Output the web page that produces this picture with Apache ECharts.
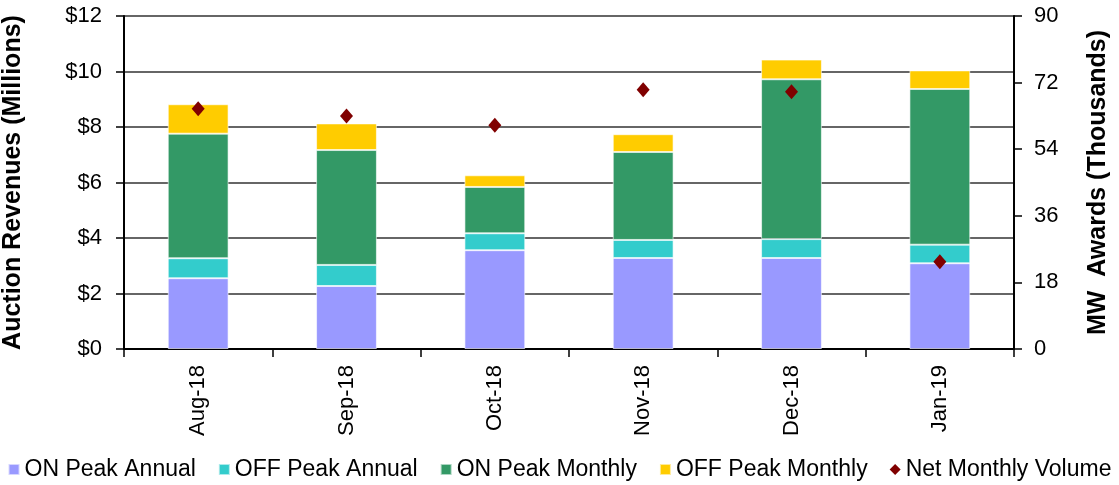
<!DOCTYPE html>
<html><head><meta charset="utf-8">
<script src="https://cdn.jsdelivr.net/npm/echarts@6/dist/echarts.min.js"></script>
<style>html,body{margin:0;padding:0;background:#fff}#c{width:1119px;height:485px}</style>
</head><body><div id="c"></div>
<script>
const categories = ['Aug-18','Sep-18','Oct-18','Nov-18','Dec-18','Jan-19'];
const onPeakAnnual = [2.55, 2.27, 3.56, 3.28, 3.28, 3.09];
const offPeakAnnual = [0.72, 0.76, 0.61, 0.65, 0.68, 0.67];
const onPeakMonthly = [4.49, 4.14, 1.67, 3.17, 5.76, 5.61];
const offPeakMonthly = [1.06, 0.96, 0.42, 0.64, 0.71, 0.67];
const netMonthlyVolume = [64.9, 63.0, 60.5, 70.1, 69.5, 23.6];
const leftTicks = [0, 2, 4, 6, 8, 10, 12];
const rightTicks = [0, 18, 36, 54, 72, 90];

const font = 'Liberation Sans, Arial, sans-serif';
const chart = echarts.init(document.getElementById('c'), null, {renderer:'canvas'});
const barBase = {type:'bar', stack:'rev', barWidth:'41%', itemStyle:{borderColor:'rgba(255,255,255,0.6)', borderWidth:1}};
chart.setOption({
  animation:false,
  textStyle:{fontFamily:font, color:'#000'},
  grid:{left:124, right:105, top:16, bottom:136, containLabel:false, outerBoundsMode:'none'},
  legend:{
    top:458, left:'center', padding:0, itemWidth:11, itemHeight:11, itemGap:22,
    textStyle:{fontSize:23, fontFamily:font, color:'#000'},
    data:[
      {name:'ON Peak Annual', icon:'rect'},
      {name:'OFF Peak Annual', icon:'rect'},
      {name:'ON Peak Monthly', icon:'rect'},
      {name:'OFF Peak Monthly', icon:'rect'},
      {name:'Net Monthly Volume', icon:'diamond'}
    ]
  },
  xAxis:{
    type:'category', data:categories,
    axisLine:{lineStyle:{color:'#000', width:2}},
    axisTick:{show:true, length:8, lineStyle:{color:'#000', width:1.5}},
    axisLabel:{rotate:90, fontSize:22, color:'#000', margin:16, fontFamily:font}
  },
  yAxis:[
    {type:'value', min:0, max:12, interval:2,
     name:'Auction Revenues (Millions)', nameLocation:'middle', nameGap:98,
     nameTextStyle:{fontSize:25, fontWeight:'bold', color:'#000', fontFamily:font},
     axisLine:{show:true, lineStyle:{color:'#000', width:2}},
     axisTick:{show:true, length:8, lineStyle:{color:'#000', width:1.5}},
     axisLabel:{fontSize:22, color:'#000', margin:22, fontFamily:font,
       formatter:v => leftTicks.includes(v) ? '$' + v : ''},
     splitLine:{show:true, lineStyle:{color:'#333', width:1.5}}
    },
    {type:'value', min:0, max:90, interval:18, position:'right',
     name:'MW  Awards (Thousands)', nameLocation:'middle', nameGap:72,
     nameTextStyle:{fontSize:25, fontWeight:'bold', color:'#000', fontFamily:font},
     axisLine:{show:true, lineStyle:{color:'#000', width:2}},
     axisTick:{show:true, length:8, lineStyle:{color:'#000', width:1.5}},
     axisLabel:{fontSize:22, color:'#000', margin:20, fontFamily:font,
       formatter:v => rightTicks.includes(v) ? String(v) : ''},
     splitLine:{show:false}
    }
  ],
  series:[
    Object.assign({}, barBase, {name:'ON Peak Annual', data:onPeakAnnual, itemStyle:Object.assign({}, barBase.itemStyle, {color:'#9999FF'})}),
    Object.assign({}, barBase, {name:'OFF Peak Annual', data:offPeakAnnual, itemStyle:Object.assign({}, barBase.itemStyle, {color:'#33CCCC'})}),
    Object.assign({}, barBase, {name:'ON Peak Monthly', data:onPeakMonthly, itemStyle:Object.assign({}, barBase.itemStyle, {color:'#339966'})}),
    Object.assign({}, barBase, {name:'OFF Peak Monthly', data:offPeakMonthly, itemStyle:Object.assign({}, barBase.itemStyle, {color:'#FFCC00'})}),
    {name:'Net Monthly Volume', type:'scatter', yAxisIndex:1, data:netMonthlyVolume,
     symbol:'diamond', symbolSize:[13,15], itemStyle:{color:'#800000', opacity:1}, z:5}
  ]
});
</script></body></html>
